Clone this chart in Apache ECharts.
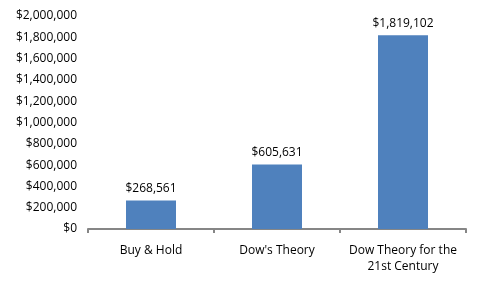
<!DOCTYPE html>
<html>
<head>
<meta charset="utf-8">
<script src="https://cdn.jsdelivr.net/npm/echarts@6/dist/echarts.min.js"></script>
<style>
  html, body { margin: 0; padding: 0; background: #fff; }
  #chart { width: 481px; height: 289px; }
</style>
</head>
<body>
<div id="chart"></div>
<script>
const categories = ['Buy & Hold', "Dow's Theory", 'Dow Theory for the\n21st Century'];
const values = [268561, 605631, 1819102];

const money = v => '$' + Math.round(v).toLocaleString('en-US');

const chart = echarts.init(document.getElementById('chart'), null, { renderer: 'canvas' });

chart.setOption({
  animation: false,
  backgroundColor: '#ffffff',
  textStyle: { fontFamily: 'Open Sans', fontSize: 12, color: '#000' },
  grid: { left: 88, right: 15, top: 16, bottom: 60, containLabel: false },
  xAxis: {
    type: 'category',
    data: categories,
    axisLine: { lineStyle: { color: '#868686', width: 2 } },
    axisTick: { show: true, length: 4, lineStyle: { color: '#868686', width: 2 } },
    axisLabel: { color: '#000', fontSize: 12, lineHeight: 16, margin: 14, interval: 0 },
  },
  yAxis: {
    type: 'value',
    min: 0,
    max: 2000000,
    interval: 200000,
    axisLine: { show: false },
    axisTick: { show: false },
    splitLine: { show: false },
    axisLabel: { color: '#000', fontSize: 12, margin: 11, formatter: money },
  },
  series: [
    {
      type: 'bar',
      data: values,
      barWidth: 50,
      itemStyle: { color: '#4F81BD' },
      label: {
        show: true,
        position: 'top',
        distance: 6,
        color: '#000',
        fontSize: 12,
        formatter: p => money(p.value),
      },
    },
  ],
});
</script>
</body>
</html>
